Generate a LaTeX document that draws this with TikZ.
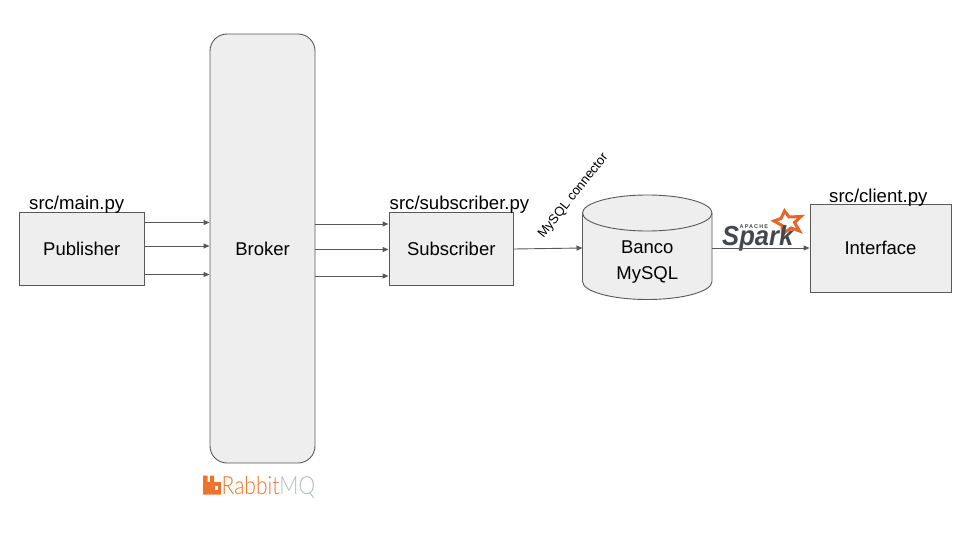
\documentclass[tikz,border=0pt]{standalone}
\usepackage{fontspec}
\usepackage{graphicx}
\setmainfont{Liberation Sans}
\newfontfamily\lato{Lato Light}
\definecolor{boxfill}{HTML}{EEEEEE}
\definecolor{boxline}{HTML}{595959}
\definecolor{rabbit}{HTML}{F0732A}
\definecolor{mqgray}{HTML}{B4BBBF}
\definecolor{sparkstar}{HTML}{E8642A}
\definecolor{sparktext}{HTML}{44484C}
\usetikzlibrary{arrows.meta}
\tikzset{
  box/.style={draw=boxline,fill=boxfill,line width=0.9pt,inner sep=0pt,align=center,font=\fontsize{18.5}{25}\selectfont},
  lab/.style={inner sep=0pt,anchor=base west,font=\fontsize{18.6}{21}\selectfont,text=black},
  arr/.style={draw=boxline,line width=0.9pt,-{Triangle[length=6pt,width=5pt,fill=boxline]},shorten >=0pt},
  boxtext/.style={inner sep=0pt,align=center,font=\fontsize{18.5}{26}\selectfont},
}
\begin{document}
\begin{tikzpicture}[x=1pt,y=-1pt]
\useasboundingbox[fill=white] (0,0) rectangle (960,540);
% boxes
\node[box,minimum width=125.5pt,minimum height=73.5pt] (pub) at (81.75,249) {\raisebox{-1pt}{Publisher}};
\node[box,minimum width=105pt,minimum height=429pt,rounded corners=17pt] (broker) at (262.5,248.5) {\raisebox{-1pt}{Broker}};
\node[box,minimum width=124.5pt,minimum height=73.5pt] (sub) at (451.25,249) {\raisebox{-1pt}{Subscriber}};
\node[box,minimum width=141pt,minimum height=88pt] (ui) at (880.5,248) {\raisebox{-1pt}{Interface}};
% database
\draw[draw=boxline,fill=boxfill,line width=0.9pt]
  (582.5,213) arc[x radius=64.75pt,y radius=18pt,start angle=180,end angle=0]
  -- (712,281.5) arc[x radius=64.75pt,y radius=18pt,start angle=0,end angle=-180] -- cycle;
\draw[draw=boxline,line width=0.9pt] (582.5,213) arc[x radius=64.75pt,y radius=18pt,start angle=180,end angle=360];
\node[boxtext] (db) at (647.25,262) {Banco\\MySQL};
\coordinate (dbw) at (582.5,248);
\coordinate (dbe) at (712,248);
% levels of the parallel arrows
\coordinate (ya) at (0,222.5);
\coordinate (yb) at (0,246);
\coordinate (yc) at (0,274.5);
\coordinate (yd) at (0,224);
\coordinate (ye) at (0,249.5);
\coordinate (yf) at (0,276);
% Spark logo (under the connector)
\draw[sparkstar,line width=3pt,line join=miter,fill=white]
  (784.5,211) -- (789,217) -- (801,216.5) -- (794.5,222.5) -- (799.5,231) -- (791,228) -- (782.5,234) -- (782,225.5) -- (774,221) -- (781,218.5) -- cycle;
\node[inner sep=0pt,anchor=base west,text=sparktext] (spark) at (722,245.5) {\scalebox{0.93}[1]{\bfseries\itshape\fontsize{27.5}{28}\selectfont Spark}};
\node[inner sep=0pt,anchor=base west,font=\bfseries\fontsize{5.5}{6}\selectfont,text=sparktext] (apache) at (739.5,228.5) {\addfontfeature{LetterSpace=20}APACHE};
% connectors
\draw[arr] (pub.east|-ya) -- (broker.west|-ya);
\draw[arr] (pub.east|-yb) -- (broker.west|-yb);
\draw[arr] (pub.east|-yc) -- (broker.west|-yc);
\draw[arr] (broker.east|-yd) -- (sub.west|-yd);
\draw[arr] (broker.east|-ye) -- (sub.west|-ye);
\draw[arr] (broker.east|-yf) -- (sub.west|-yf);
\draw[arr] (sub.east) -- (dbw);
\draw[arr] (dbe) -- (ui.west);
% labels
\node[lab] (l1) at (29,209.5) {src/main.py};
\node[lab] (l2) at (389.5,209.5) {src/subscriber.py};
\node[lab] (l3) at (829,202.5) {src/client.py};
\node[inner sep=0pt,rotate=51.5,font=\fontsize{13}{15}\selectfont] (conn) at (573.5,196) {MySQL connector};
% RabbitMQ logo
\fill[rabbit] (203,475.5) -- (207.5,475.5) -- (207.5,482) -- (210,482) -- (210,475.5) -- (214,475.5) -- (214,482) -- (221,482) -- (221,494.5) -- (203,494.5) -- cycle;
\fill[white] (214.5,486) rectangle (218,490);
\node[inner sep=0pt,anchor=base west] (rb) at (221.5,494) {\scalebox{0.84}[1]{\lato\fontsize{25}{25}\selectfont\textcolor{rabbit}{Rabbit}\textcolor{mqgray}{MQ}}};
\end{tikzpicture}
\end{document}
